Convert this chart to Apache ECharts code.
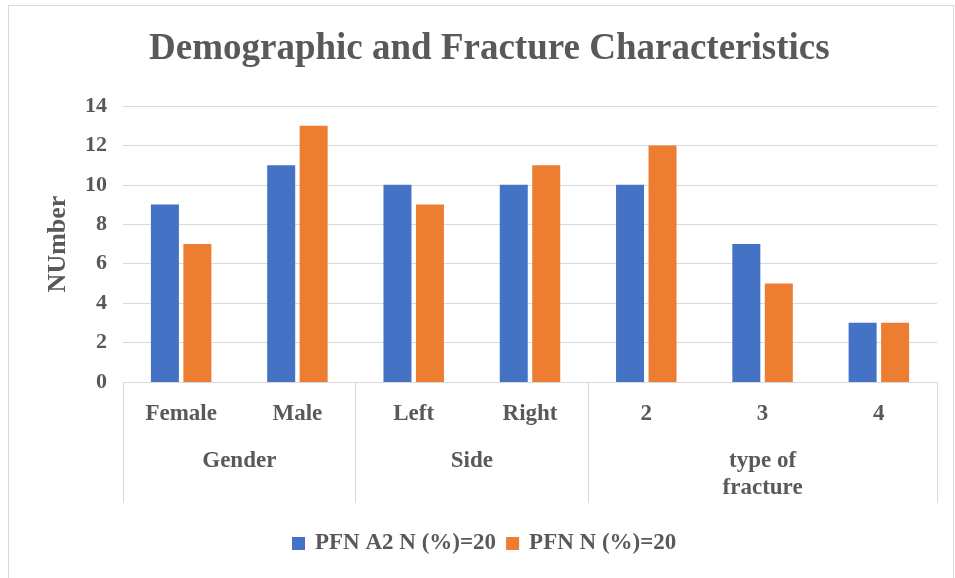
<!DOCTYPE html>
<html>
<head>
<meta charset="utf-8">
<script src="https://cdn.jsdelivr.net/npm/echarts@6/dist/echarts.min.js"></script>
<style>
html,body{margin:0;padding:0;background:#fff;}
#frame{position:absolute;left:8px;top:5px;width:946px;height:575px;border:1px solid #d9d9d9;box-sizing:border-box;}
#chart{position:absolute;left:0;top:0;width:955px;height:578px;}
</style>
</head>
<body>
<div id="frame"></div>
<div id="chart"></div>
<script>
var categories = ['Female', 'Male', 'Left', 'Right', '2', '3', '4'];
var groupLabels = ['Gender', 'Side', 'type of\nfracture'];
var groupSizes = [2, 2, 3];
var seriesNames = ['PFN A2 N (%)=20', 'PFN N (%)=20'];
var pfnA2 = [9, 11, 10, 10, 10, 7, 3];
var pfn = [7, 13, 9, 11, 12, 5, 3];
var yTicks = { min: 0, max: 14, interval: 2 };

// half-unit positions for the group axis
var halfCats = [];
var tickIdx = [0];
var labelIdx = {};
var pos = 0;
for (var g = 0; g < groupSizes.length; g++) {
  labelIdx[pos + groupSizes[g]] = groupLabels[g];
  pos += groupSizes[g] * 2;
  tickIdx.push(pos);
}
for (var i = 0; i <= pos; i++) halfCats.push(labelIdx[i] || '');

var font = '"Liberation Serif", "Times New Roman", serif';
var txt = '#595959';

var chart = echarts.init(document.getElementById('chart'));
chart.setOption({
  animation: false,
  color: ['#4472C4', '#ED7D31'],
  title: {
    text: 'Demographic and Fracture Characteristics',
    left: 144,
    top: 26,
    textStyle: { fontFamily: font, fontWeight: 'bold', fontSize: 37, color: txt }
  },
  legend: {
    data: seriesNames,
    bottom: 18,
    left: 287,
    itemWidth: 13,
    itemHeight: 13,
    itemGap: 10,
    icon: 'rect',
    textStyle: { fontFamily: font, fontWeight: 'bold', fontSize: 23, color: txt, padding: [0, 0, 0, 5] }
  },
  grid: { left: 123, right: 18, top: 106, bottom: 196, containLabel: false },
  xAxis: [
    {
      type: 'category',
      data: categories,
      position: 'bottom',
      axisLine: { lineStyle: { color: '#d9d9d9' } },
      axisTick: { show: false },
      axisLabel: { margin: 21, fontFamily: font, fontWeight: 'bold', fontSize: 23, color: txt }
    },
    {
      type: 'category',
      data: halfCats,
      position: 'bottom',
      boundaryGap: false,
      axisLine: { show: false },
      axisTick: {
        show: true,
        length: 121,
        interval: function (idx) { return tickIdx.indexOf(idx) >= 0; },
        lineStyle: { color: '#d9d9d9' }
      },
      axisLabel: {
        interval: 0,
        margin: 66,
        lineHeight: 27,
        verticalAlign: 'top',
        fontFamily: font, fontWeight: 'bold', fontSize: 23, color: txt
      }
    }
  ],
  yAxis: {
    type: 'value',
    min: yTicks.min,
    max: yTicks.max,
    interval: yTicks.interval,
    name: 'NUmber',
    nameLocation: 'middle',
    nameGap: 52,
    nameTextStyle: { fontFamily: font, fontWeight: 'bold', fontSize: 26, color: txt },
    axisLine: { show: false },
    axisTick: { show: false },
    splitLine: { lineStyle: { color: '#d9d9d9' } },
    axisLabel: { margin: 16, fontFamily: font, fontWeight: 'bold', fontSize: 22, color: txt }
  },
  series: [
    { name: seriesNames[0], type: 'bar', data: pfnA2, barWidth: 28, barGap: '16%', xAxisIndex: 0 },
    { name: seriesNames[1], type: 'bar', data: pfn, barWidth: 28, barGap: '16%', xAxisIndex: 0 }
  ]
});
</script>
</body>
</html>
